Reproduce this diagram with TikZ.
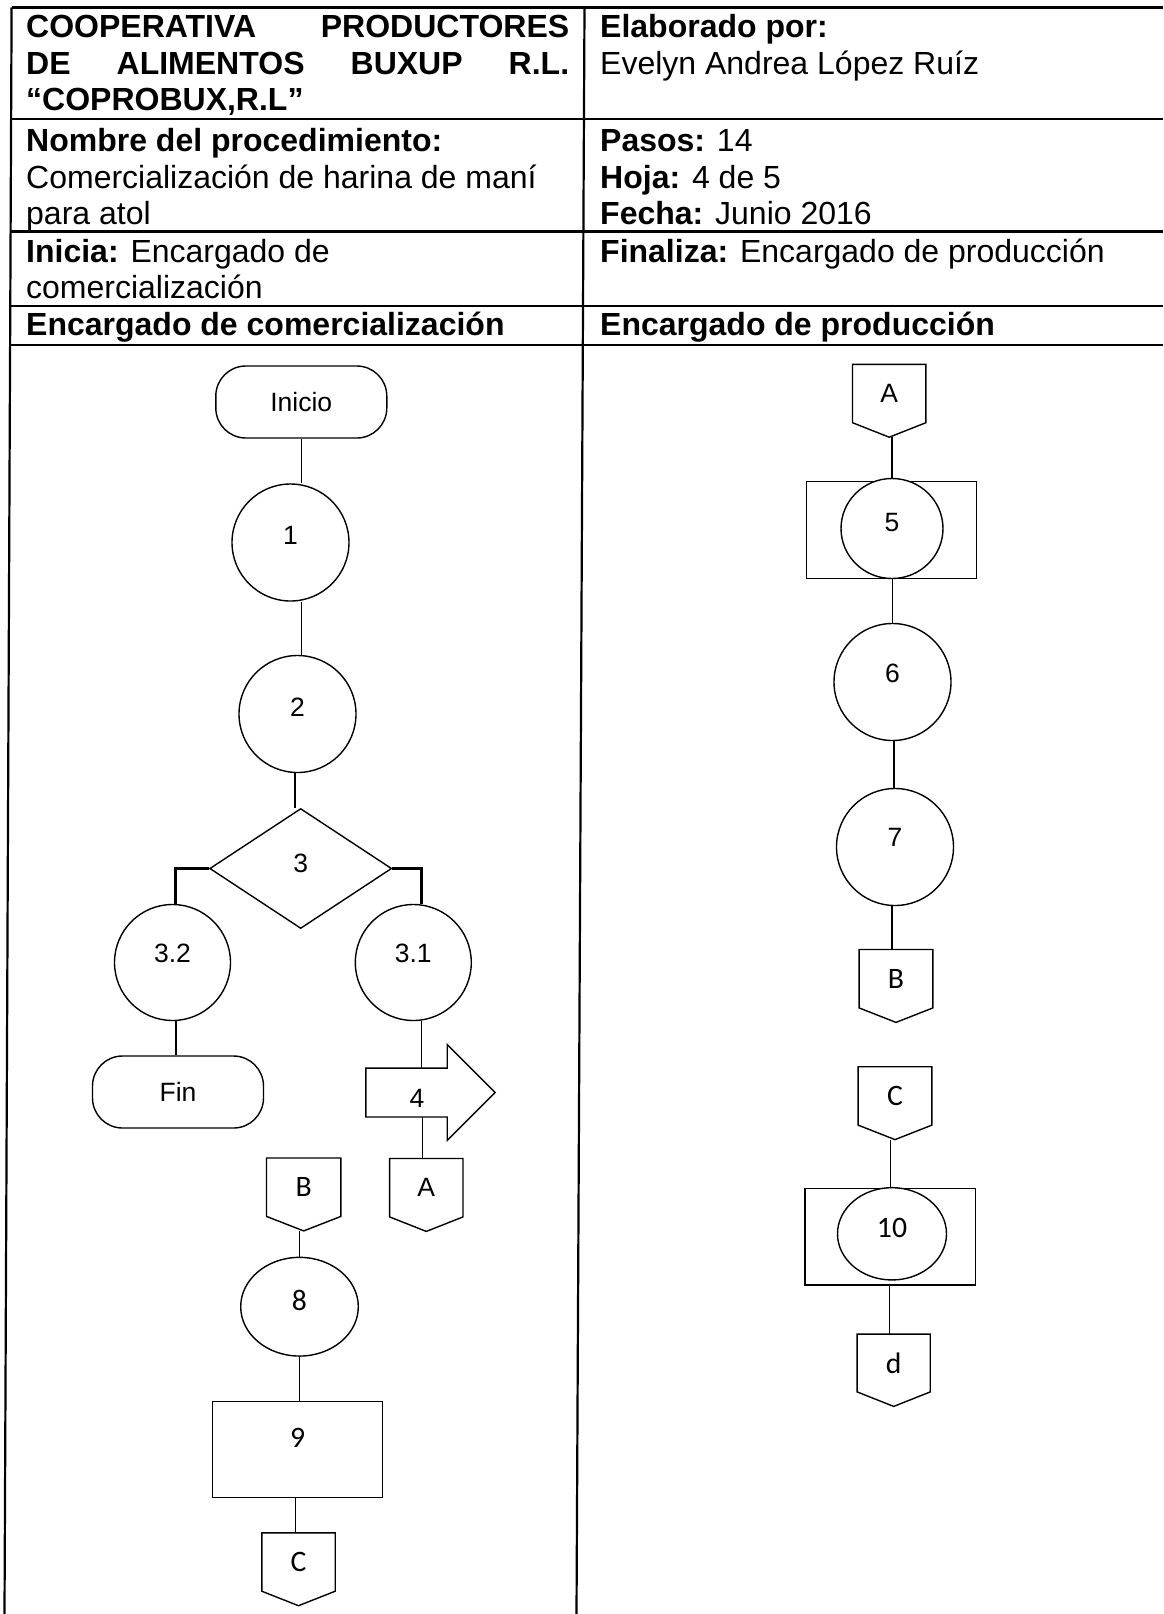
\documentclass[tikz,border=0pt]{standalone}
\usepackage{fontspec}
\setmainfont{Liberation Sans}
\newfontfamily\calfont{Carlito}[Scale=1.12]
\usetikzlibrary{shapes.geometric}

% off-page connector outline drawn around a named rectangular node
\newcommand\offpagebox[1]{%
  \draw[flow] (#1.north west) -- (#1.north east) -- (#1.south east)
    -- ([yshift=-14.5pt]#1.south) -- (#1.south west) -- cycle;}

\begin{document}
\begin{tikzpicture}[x=1pt,y=-1pt,
  rule/.style={line width=2.2pt},
  hdr/.style={anchor=base west, inner sep=0pt, font=\fontsize{32}{36.5}\selectfont},
  flow/.style={line width=1.4pt},
  branch/.style={line width=3pt},
  shp/.style={inner sep=0pt, font=\fontsize{26.5}{30}\selectfont},
  circ/.style={shp, draw, line width=1.4pt, circle, fill=white, minimum size=117pt, text depth=#1},
  circ/.default=18pt,
  oval/.style={shp, draw, line width=1.4pt, ellipse, fill=white, text depth=#1},
  oval/.default=12pt,
  term/.style={shp, draw, line width=1.4pt, rectangle, rounded corners=30pt,
    minimum width=171pt, minimum height=72pt},
  procbox/.style={shp, draw, line width=1.4pt, rectangle, minimum width=170pt, minimum height=96.5pt},
  decision/.style={shp, draw, line width=1.4pt, diamond, minimum width=182pt, minimum height=120pt, text depth=10pt},
  offpg/.style={shp, rectangle, minimum width=73pt, minimum height=58pt},
]
\useasboundingbox (0,0) rectangle (1163,1614);

% ---------------- form grid ----------------
\draw[rule] (11.6,7.5) -- (1163,7.5);
\foreach \yy in {119,231.5,306,345}
  \draw[rule] (11,\yy) -- (1163,\yy);
\draw[rule] (11.6,7.5) -- (4.5,1614);
\draw[rule] (584.5,7.5) -- (576.5,1614);

% ---------------- header texts ----------------
\node[hdr] (org) at (26,37.5) {\vtop{\bfseries
  \hbox to 543pt{COOPERATIVA\hfill PRODUCTORES}
  \hbox to 543pt{DE\hfill ALIMENTOS\hfill BUXUP\hfill R.L.}
  \hbox{“COPROBUX,R.L”}}};
\node[hdr] (autor) at (600,37.5) {\vtop{
  \hbox{\bfseries Elaborado por:}
  \hbox{Evelyn Andrea López Ruíz}}};
\node[hdr] (proc) at (26,151.5) {\vtop{
  \hbox{\bfseries Nombre del procedimiento:}
  \hbox{Comercialización de harina de maní}
  \hbox{para atol}}};
\node[hdr] (datos) at (600,151.5) {\vtop{
  \hbox{\textbf{Pasos:} 14}
  \hbox{\textbf{Hoja:} 4 de 5}
  \hbox{\textbf{Fecha:} Junio 2016}}};
\node[hdr] (inicia) at (26,262) {\vtop{
  \hbox{\textbf{Inicia:} Encargado de}
  \hbox{comercialización}}};
\node[hdr] (finaliza) at (600,262) {\textbf{Finaliza:} Encargado de producción};
\node[hdr] (lane1) at (26,335) {\bfseries Encargado de comercialización};
\node[hdr] (lane2) at (600,335) {\bfseries Encargado de producción};

% ---------------- lane 1: comercialización ----------------
\node[term] (inicio) at (301.3,402) {Inicio};
\node[circ=15pt] (c1) at (290.5,542.5) {1};
\node[circ=14pt] (c2) at (297.5,714) {2};
\node[decision] (d3) at (300.7,868.5) {3};
\node[circ=19pt, minimum size=116pt] (c32) at (172.5,962.5) {3.2};
\node[circ=19pt, minimum size=116pt] (c31) at (413.3,962.5) {3.1};
\node[term] (fin) at (178,1092) {Fin};
\node[shp, minimum width=81pt, minimum height=48.5pt, text height=29.5pt] (n4) at (406.5,1092.5) {\hspace*{21pt}4};
\draw[flow] (n4.north west) -- (n4.north east) -- ([yshift=23.5pt]n4.north east)
  -- ([xshift=48pt]n4.east) -- ([yshift=-23.5pt]n4.south east) -- (n4.south east)
  -- (n4.south west) -- cycle;
\node[offpg] (a1) at (426.3,1187.7) {A};
\node[offpg, minimum width=74pt] (b1) at (303.7,1187.2) {\calfont B};
\node[oval=13pt, minimum width=117.6pt, minimum height=98.7pt] (c8) at (299.5,1306.7) {\calfont 8};
\node[procbox, minimum height=96pt, text depth=23pt] (r9) at (297.7,1449.7) {\calfont 9};
\node[offpg] (cl) at (298.5,1562) {\calfont C};
\offpagebox{a1}
\offpagebox{b1}
\offpagebox{cl}

\draw[flow] (inicio.south) -- (inicio.south |- c1.north);
\draw[flow] ([xshift=11pt]c1.south) -- ([xshift=11pt]c1.south |- c2.north);
\draw[flow] ([xshift=-2.5pt]c2.south) -- ([xshift=-2.5pt]c2.south |- d3.north);
\draw[branch] (d3.west) -| ([xshift=3pt]c32.north);
\draw[branch] (d3.east) -| ([xshift=8pt]c31.north);
\draw[flow] ([xshift=3.5pt]c32.south) -- ([xshift=3.5pt]c32.south |- fin.north);
\draw[flow] ([xshift=8pt]c31.south) -- ([xshift=8pt]c31.south |- n4.north);
\draw[flow] ([xshift=16pt]n4.south) -- ([xshift=16pt]n4.south |- a1.north);
\draw[flow] ([yshift=-14.5pt]b1.south -| c8.north) -- (c8.north);
\draw[flow] (c8.south) -- (c8.south |- r9.north);
\draw[flow] ([xshift=-2pt]r9.south) -- ([xshift=-2pt]r9.south |- cl.north);

% ---------------- lane 2: producción ----------------
\node[offpg] (a2) at (889.2,393.5) {A};
\node[procbox] (r5) at (891.7,530) {};
\node[oval=13pt, minimum width=102pt, minimum height=100pt] (c5) at (892,528.5) {5};
\node[circ] (c6) at (892.5,682) {6};
\node[circ=20pt] (c7) at (895,847) {7};
\node[offpg, minimum width=73.4pt] (b2) at (896,978.7) {\calfont B};
\node[offpg, minimum width=73.4pt] (cr) at (895,1095.9) {\calfont C};
\node[procbox, minimum width=170.7pt, minimum height=96.7pt] (r10) at (890.3,1236.7) {};
\node[oval=12pt, minimum width=109pt, minimum height=92.3pt] (c10) at (892,1233.8) {\calfont 10};
\node[offpg, minimum width=72.7pt, minimum height=57.4pt] (dd) at (893.7,1363) {\calfont d};
\offpagebox{a2}
\offpagebox{b2}
\offpagebox{cr}
\offpagebox{dd}

\draw[flow] ([yshift=-14.5pt]a2.south -| c5.north) -- (c5.north);
\draw[flow] (r5.south -| c6.north) -- (c6.north);
\draw[flow] ([xshift=1.5pt]c6.south) -- ([xshift=1.5pt]c6.south |- c7.north);
\draw[flow] ([xshift=-3pt]c7.south) -- ([xshift=-3pt]c7.south |- b2.north);
\draw[flow] ([yshift=-14.5pt]cr.south -| r10.north) -- (r10.north);
\draw[flow] ([xshift=-1pt]r10.south) -- ([xshift=-1pt]r10.south |- dd.north);
\end{tikzpicture}
\end{document}
